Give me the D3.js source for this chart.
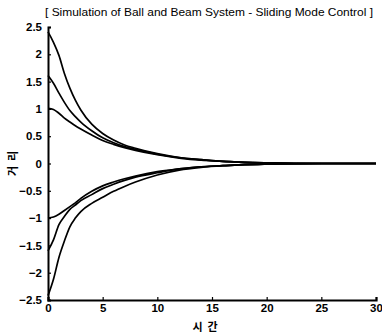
<!DOCTYPE html>
<html>
<head>
<meta charset="utf-8">
<script src="https://cdn.jsdelivr.net/npm/d3@7"></script>
<style>
  body { margin: 0; background: #fff; }
  svg text { font-family: "Liberation Sans", Arial, sans-serif; fill: #000; }
</style>
</head>
<body>
<div id="chart"></div>
<script>
// 시간 축 샘플 (s)
const times = [0, 0.5, 1, 1.5, 2, 2.5, 3, 4, 5, 6, 7, 8, 10, 12, 14, 16, 18, 20, 25, 30];

// 거리 응답 – 초기값별
const posHigh = [2.41, 2.22, 1.98, 1.65, 1.38, 1.16, 0.98, 0.72, 0.55, 0.43, 0.34, 0.28, 0.18, 0.11, 0.07, 0.04, 0.02, 0.01, 0, 0];
const posMid = [1.61, 1.47, 1.29, 1.12, 0.97, 0.86, 0.76, 0.60, 0.47, 0.38, 0.31, 0.26, 0.17, 0.11, 0.07, 0.04, 0.02, 0.01, 0, 0];
const posLow = [1.01, 0.99, 0.92, 0.83, 0.76, 0.69, 0.63, 0.52, 0.42, 0.35, 0.29, 0.24, 0.16, 0.10, 0.06, 0.04, 0.02, 0.01, 0, 0];
const negLow = [-1.0, -0.98, -0.93, -0.86, -0.79, -0.72, -0.64, -0.51, -0.41, -0.34, -0.28, -0.23, -0.15, -0.10, -0.06, -0.04, -0.02, -0.01, 0, 0];
const negMid = [-1.60, -1.40, -1.12, -0.97, -0.84, -0.76, -0.68, -0.57, -0.46, -0.38, -0.31, -0.25, -0.17, -0.10, -0.06, -0.04, -0.02, -0.01, 0, 0];
const negHigh = [-2.42, -2.12, -1.72, -1.42, -1.16, -1.0, -0.88, -0.73, -0.62, -0.51, -0.42, -0.34, -0.21, -0.12, -0.07, -0.04, -0.02, -0.01, 0, 0];

const xTicks = [0, 5, 10, 15, 20, 25, 30];
const yTicks = [-2.5, -2, -1.5, -1, -0.5, 0, 0.5, 1, 1.5, 2, 2.5];

const titleText = '[ Simulation of Ball and Beam System - Sliding Mode Control ]';
const xLabel = '시  간';
const yLabel = '거  리';

const W = 382, H = 333;
const margin = { top: 27, right: 6, bottom: 33, left: 48 };

const svg = d3.select('#chart')
  .append('svg')
  .attr('width', W)
  .attr('height', H);

const x = d3.scaleLinear().domain([0, 30]).range([margin.left, W - margin.right]);
const y = d3.scaleLinear().domain([-2.5, 2.5]).range([H - margin.bottom, margin.top]);

// axes
const xAxis = svg.append('g')
  .attr('transform', `translate(0,${H - margin.bottom})`)
  .call(d3.axisBottom(x).tickValues(xTicks).tickSize(-3).tickPadding(4).tickFormat(d3.format('d')));
xAxis.select('.domain').attr('stroke-width', 2.2);
xAxis.selectAll('.tick line').attr('stroke-width', 1.2);
xAxis.selectAll('text').attr('font-size', 11.5).attr('font-weight', 'bold');

const yAxis = svg.append('g')
  .attr('transform', `translate(${margin.left},0)`)
  .call(d3.axisLeft(y).tickValues(yTicks).tickSize(-3).tickPadding(6).tickFormat(d => d3.format('')(d)));
yAxis.select('.domain').attr('stroke-width', 2);
yAxis.selectAll('.tick line').attr('stroke-width', 1.2);
yAxis.selectAll('text').attr('font-size', 11.5).attr('font-weight', 'bold');

// curves
const series = [posHigh, posMid, posLow, negLow, negMid, negHigh];
const line = d3.line()
  .x((d, i) => x(times[i]))
  .y(d => y(d))
  .curve(d3.curveMonotoneX);

svg.append('g')
  .selectAll('path.resp')
  .data(series)
  .enter()
  .append('path')
  .attr('class', 'resp')
  .attr('fill', 'none')
  .attr('stroke', '#000')
  .attr('stroke-width', 1.7)
  .attr('d', line);

// title
svg.append('text')
  .attr('x', 45)
  .attr('y', 16)
  .attr('font-size', 11.5)
  .attr('textLength', 328)
  .attr('lengthAdjust', 'spacingAndGlyphs')
  .text(titleText);

// axis labels
svg.append('text')
  .attr('x', 205)
  .attr('y', 331)
  .attr('text-anchor', 'middle')
  .attr('font-size', 11)
  .attr('font-weight', 'bold')
  .style('font-family', '"Noto Sans CJK KR", sans-serif')
  .style('white-space', 'pre')
  .text(xLabel);

svg.append('text')
  .attr('transform', `translate(17,${y(0)}) rotate(-90)`)
  .attr('text-anchor', 'middle')
  .attr('font-size', 11)
  .attr('font-weight', 'bold')
  .style('font-family', '"Noto Sans CJK KR", sans-serif')
  .style('white-space', 'pre')
  .text(yLabel);
</script>
</body>
</html>
